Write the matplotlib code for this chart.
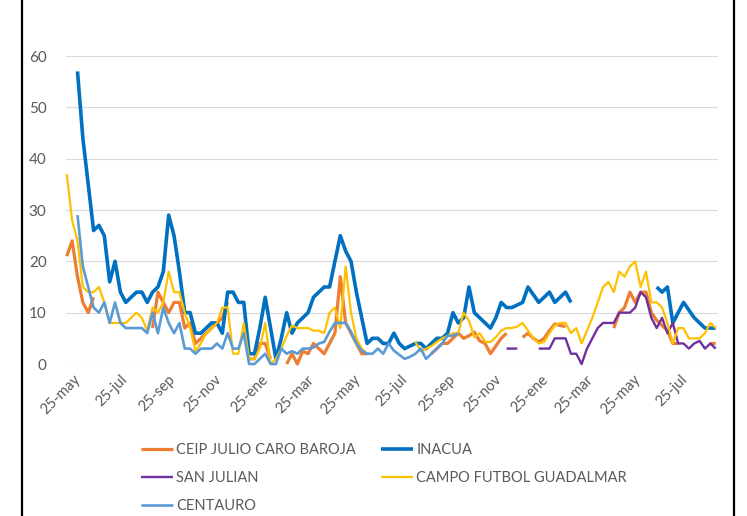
import numpy as np
import pandas as pd
import matplotlib
matplotlib.use('Agg')
import matplotlib.pyplot as plt
from matplotlib.lines import Line2D
from matplotlib.transforms import ScaledTranslation

plt.rcParams['font.family'] = ['Lato', 'DejaVu Sans']

nan = np.nan

# weekly samples from 25-may
fechas = pd.date_range('2020-05-25', periods=122, freq='7D')

ceip = ([21, 24, 17, 12, 10, 13] + [nan] * 10 +
        [7, 14, 12, 10, 12, 12, 7, 8, 4, 5, 6, 7, 8, 9, 12] + [nan] * 3 +
        [1, 1, 4, 4, 1, nan, nan, 0, 2, 0, 2.5, 2, 4, 3, 2, 4, 6, 17, 8, 6, 4, 2, 2] + [nan] * 11 +
        [2, 3, 4, 4, 5, 6, 5, 5.5, 6.2, 4.5, 4, 2, 3.5, 5, 6, nan, nan, 5.2, 6, 5, 4.3, 5, 6.5, 7.8, 7.5, 7.3] +
        [nan] * 8 +
        [7, 10, 11, 14, 12, 14, 14, 10, 8.5, 7.5, 6.5, 4, 4] + [nan] * 5 + [4, 4])

inacua = ([nan, nan, 57, 44, 35, 26, 27, 25, 16, 20,
           14, 12, 13, 14, 14, 12, 14, 15, 18, 29,
           25, 18, 10, 10, 6, 6, 7, 8, 8, 6,
           14, 14, 12, 12, 2, 2, 7, 13, 7, 1,
           5, 10, 6, 8, 9, 10, 13, 14, 15, 15,
           20, 25, 22, 20, 14, 9, 4, 5, 5, 4,
           4, 6, 4, 3, 3.5, 4, 4, 3, 4, 5,
           5, 6, 10, 8, 9, 15, 10, 9, 8, 7,
           9, 12, 11, 11, 11.5, 12, 15, 13.5, 12, 13,
           14, 12, 13, 14, 12] + [nan] * 15 +
          [15, 14, 15, 8, 10, 12, 10.5, 9, 8, 7, 7, 7])

san_julian = [nan] * 82 + [3, 3, 3, nan, nan, nan, 3, 3, 3, 5,
                           5, 5, 2, 2, 0, 3, 5, 7, 8, 8,
                           8, 10, 10, 10, 11, 14, 13, 9, 7, 9,
                           6, 8, 4, 4, 3, 4, 4.5, 3, 4, 3]

campo = ([37, 28, 24, 15, 14, 14, 15, 12, 8, 8,
          8, 8, 9, 10, 9, 6.5, 11, 10, 12, 18,
          14, 14, 10, 7, 2.5, 4, 6, 7, 8, 11,
          11, 2, 2, 8, 1, 1, 3, 8, 0, 1,
          3, 5.5, 7.5, 7, 7, 7, 6.5, 6.5, 6, 10,
          11, 7, 19, 10, 5, 3, 2] + [nan] * 8 +
         [4.3, 2.5, 3, 3.5, 4.3, 5, 5.5, 6, 6, 10,
          8.4, 5.2, 6, 4.3, 4.3, 5.2, 6.5, 7, 7, 7.3,
          8, 6.5, 5, 4, 4.3, 6, 7.5, 8, 8, 6,
          7, 4, 6.5, 9, 12, 15, 16, 14, 18, 17,
          19, 20, 15, 18, 12, 12, 11, 8, 4, 7,
          7, 5, 5, 5, 6, 8, 7])

centauro = ([nan, nan, 29, 19, 15, 11, 10, 12, 8, 12,
             8, 7, 7, 7, 7, 6, 10, 6, 11, 8,
             6, 8, 3, 3, 2, 3, 3, 3, 4, 3,
             6, 3, 3, 6, 0, 0, 1, 2, 0, 0,
             3, 2, 2.5, 2, 3, 3, 3.2, 4, 4.3, 6.3,
             8, 8, 8, 6.3, 4, 2.6, 2, 2, 3, 2,
             4, 2.6, 1.8, 1, 1.4, 2, 3, 1, 2, 3,
             4, 5.5, 5.5, 6] + [nan] * 48)

series = [
    ('CEIP JULIO CARO BAROJA', ceip, '#ED7D31', 2.3),
    ('INACUA', inacua, '#0070C0', 2.6),
    ('SAN JULIAN', san_julian, '#7030A0', 1.7),
    ('CAMPO FUTBOL GUADALMAR', campo, '#FFC000', 1.6),
    ('CENTAURO', centauro, '#5B9BD5', 1.9),
]

meses = ['ene', 'feb', 'mar', 'abr', 'may', 'jun', 'jul', 'ago', 'sep', 'oct', 'nov', 'dic']
ticks = pd.date_range('2020-05-01', '2022-07-01', freq='2MS') + pd.Timedelta(days=24)
tick_labels = ['25-' + meses[t.month - 1] for t in ticks]

gris = '#595959'

fig = plt.figure(figsize=(7.47, 5.16), dpi=100)
ax = fig.add_axes([66 / 747, 1 - 364 / 516, (718 - 66) / 747, (364 - 56) / 516])

lineas = {}
for z, (nombre, vals, color, lw) in enumerate(series):
    ln, = ax.plot(fechas, vals, color=color, lw=lw, label=nombre,
                  solid_joinstyle='round', solid_capstyle='butt', clip_on=False, zorder=3 + z)
    lineas[nombre] = ln

ax.set_ylim(0, 60)
ax.set_yticks(range(0, 61, 10))
ax.set_xlim(fechas[0] - pd.Timedelta(days=1), fechas[0] + pd.Timedelta(days=850))
ax.set_xticks(ticks)
ax.set_xticklabels(tick_labels, rotation=45, ha='right', va='top', rotation_mode='anchor')

ax.grid(axis='y', color='#D9D9D9', lw=0.8)
ax.set_axisbelow(True)
for s in ax.spines.values():
    s.set_visible(False)
ax.tick_params(axis='both', length=0, colors=gris, labelsize=10.5)
ax.tick_params(axis='y', pad=14, labelsize=11)
ax.tick_params(axis='x', pad=4)

# etiquetas del eje x algo a la derecha, como en Excel
desplaza = ScaledTranslation(7 / 100, -3 / 100, fig.dpi_scale_trans)
for lab in ax.get_xticklabels():
    lab.set_transform(lab.get_transform() + desplaza)

orden = ['CEIP JULIO CARO BAROJA', 'SAN JULIAN', 'CENTAURO', 'INACUA', 'CAMPO FUTBOL GUADALMAR']
leg = fig.legend([lineas[n] for n in orden], orden, ncol=2, loc='upper left',
                 bbox_to_anchor=(128 / 747, 1 - 430 / 516), frameon=False,
                 fontsize=10.5, handlelength=2.2, handletextpad=0.2,
                 columnspacing=1.75, labelspacing=0.95)
for t in leg.get_texts():
    t.set_color(gris)

# marco de la captura
for xb in (22 / 747, 734 / 747):
    fig.add_artist(Line2D([xb, xb], [0, 1], color='black', lw=1.6))

fig.savefig('out.png', dpi=100)
